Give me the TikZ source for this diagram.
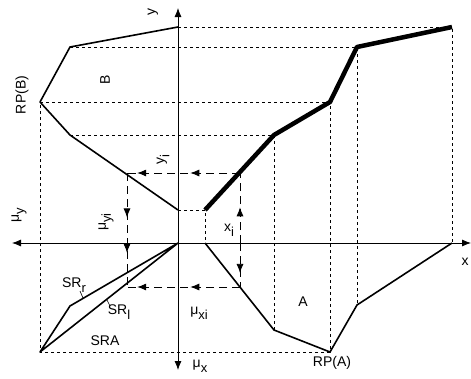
\documentclass[tikz,border=0pt]{standalone}
\usepackage{fontspec}
\setmainfont{Liberation Sans}
\usetikzlibrary{arrows.meta,decorations.markings,positioning}
\newcommand{\lowsub}[1]{\raisebox{-0.7ex}{\fontsize{13}{14}\selectfont #1}}

\begin{document}
\begin{tikzpicture}[x=1pt,y=-1pt,font=\fontsize{14}{16}\selectfont,
  >={Latex[length=9pt,width=7pt]},
  axis/.style={line width=0.8pt,<->},
  curve/.style={line width=1.6pt,line join=round},
  fat/.style={line width=4.5pt,line join=round},
  guide/.style={line width=0.8pt,dash pattern=on 3pt off 3pt},
  proj/.style={line width=0.8pt,dash pattern=on 8pt off 5pt},
  mid/.style={postaction={decorate,decoration={markings,mark=at position #1 with {\arrow{>}}}}},
  lbl/.style={inner sep=0pt}]
  \useasboundingbox (0,0) rectangle (471,378);
  % ---------- axes
  \coordinate (O) at (178,243);
  \coordinate (xl) at (12,243);  \coordinate (xr) at (471,243);
  \coordinate (yt) at (178,8);   \coordinate (yb) at (178,370);
  \draw[axis] (xl) -- (xr);
  \draw[axis] (yb) -- (yt);
  % ---------- curve points
  \foreach \n/\p in {b0/{178,27},b1/{70,47},b2/{40,102},b3/{70,135},b4/{178,210},
                     c0/{205,210},c1/{274,135},c2/{330,102},c3/{357,47},c4/{452,27},
                     a0/{205,243},a1/{274,330},a2/{330,352},a3/{357,305},a4/{452,243},
                     s1/{70,306},s2/{40,352}}
    \coordinate (\n) at (\p);
  % ---------- dashed guides
  \draw[guide] (b0) -- (c4) -- (a4);
  \draw[guide] (b1) -- (c3) -- (a3);
  \draw[guide] (b2) -- (c2) -- (a2) -- (s2) -- (b2);
  \draw[guide] (b3) -- (c1) -- (a1);
  \draw[guide] (b4) -- (c0) -- (a0);
  % ---------- membership curves
  \draw[curve] (b0) -- (b1) -- (b2) -- (b3) -- (b4);
  \draw[fat] (c0) -- (c1) -- (c2) -- (c3) -- (c4);
  \draw[curve] (a0) -- (a1) -- (a2) -- (a3) -- (a4);
  \draw[curve] (O) -- (s1) -- (s2) -- cycle;
  % ---------- projection of x_i
  \coordinate (xc) at (240,173); \coordinate (xa) at (240,287);
  \coordinate (xq) at (240,243);
  \coordinate (yb) at (127,173); \coordinate (ys) at (127,287);
  \draw[proj,mid=0.44,mid=0.91] (xc) -- (yb);
  \draw[proj,mid=0.44,mid=0.91] (xa) -- (ys);
  \draw[proj,mid=0.51] (xq) -- (xc);
  \draw[proj,mid=0.68] (xq) -- (xa);
  \draw[proj,mid=0.39,mid=0.70] (yb) -- (ys);
  % ---------- labels
  \node[lbl,rotate=90] (ly) at (153,12) {y};
  \node[lbl] (lx) at (465,262) {x};
  \node[lbl,rotate=90] (lmy) at (19,215) {μ\lowsub{y}};
  \node[lbl] (lmx) at (200,366) {μ\lowsub{x}};
  \node[lbl] (lmxi) at (199,313) {μ\lowsub{xi}};
  \node[lbl,rotate=90] (lmyi) at (106,222) {μ\lowsub{yi}};
  \node[lbl,rotate=90] (lyi) at (163,160) {y\lowsub{i}};
  \node[lbl] (lxi) at (229,230) {x\lowsub{i}};
  \node[lbl,rotate=90] (lB) at (105,80) {B};
  \node[lbl] (lA) at (303,302) {A};
  \node[lbl,rotate=90] (lrpb) at (22,95) {RP(B)};
  \node[lbl] (lrpa) at (332,363) {RP(A)};
  \node[lbl] (lsra) at (105,341) {SRA};
  \node[lbl] (lsrr) at (74,285) {SR\lowsub{r}};
  \node[lbl] (lsrl) at (119,312) {SR\lowsub{l}};
  \coordinate (tr) at (83,298); \coordinate (tl) at (107,300);
  \draw[line width=0.6pt] (80,291) -- (tr);
  \draw[line width=0.6pt] (110,306) -- (tl);
\end{tikzpicture}
\end{document}
